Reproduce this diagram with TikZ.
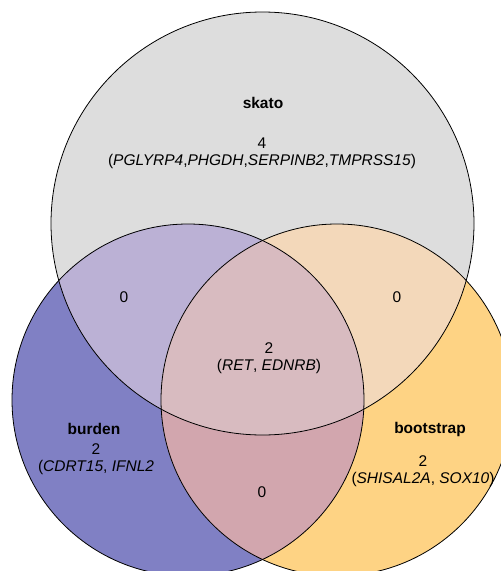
\documentclass[tikz,border=0pt]{standalone}
\usepackage{fontspec}
\setmainfont{Liberation Sans}
\definecolor{cSk}{HTML}{DDDDDD}
\definecolor{cBu}{HTML}{8080C4}
\definecolor{cBo}{HTML}{FED384}
\definecolor{cSkBu}{HTML}{BBB1D5}
\definecolor{cSkBo}{HTML}{F3D8BA}
\definecolor{cBuBo}{HTML}{D2A6AE}
\definecolor{cAll}{HTML}{D8BBC0}
\begin{document}
\begin{tikzpicture}[x=1pt,y=-1pt,
  lbl/.style={font=\fontsize{15.5}{17}\selectfont, align=center, inner sep=0pt},
  ttl/.style={font=\fontsize{15.5}{17}\selectfont\bfseries, inner sep=0pt},
  outline/.style={draw=black, line width=0.8pt}]
\useasboundingbox (0,0) rectangle (501,571);
\clip (0,0) rectangle (501,571);
\coordinate (sk) at (262.5,223.5);
\coordinate (bu) at (188,400);
\coordinate (bo) at (337,400);
\def\rs{211.5}
\def\rb{176}
% base fills
\fill[cSk] (sk) circle[radius=\rs];
\fill[cBu] (bu) circle[radius=\rb];
\fill[cBo] (bo) circle[radius=\rb];
% pairwise
\begin{scope}\clip (sk) circle[radius=\rs]; \fill[cSkBu] (bu) circle[radius=\rb];\end{scope}
\begin{scope}\clip (sk) circle[radius=\rs]; \fill[cSkBo] (bo) circle[radius=\rb];\end{scope}
\begin{scope}\clip (bu) circle[radius=\rb]; \fill[cBuBo] (bo) circle[radius=\rb];\end{scope}
\begin{scope}\clip (sk) circle[radius=\rs]; \clip (bu) circle[radius=\rb]; \fill[cAll] (bo) circle[radius=\rb];\end{scope}
% outlines
\draw[outline] (sk) circle[radius=\rs];
\draw[outline] (bu) circle[radius=\rb];
\draw[outline] (bo) circle[radius=\rb];
% labels
\node[ttl] (tsk) at (263,103) {skato};
\node[lbl] (nsk) at (262,153) {4\\(\textit{PGLYRP4},\textit{PHGDH},\textit{SERPINB2},\textit{TMPRSS15})};
\node[lbl] (nskbu) at (124,297) {0};
\node[lbl] (nskbo) at (397,297) {0};
\node[lbl] (nall) at (269,358) {2\\(\textit{RET}, \textit{EDNRB})};
\node[ttl] (tbu) at (94,429) {burden};
\node[lbl] (nbu) at (96,459) {2\\(\textit{CDRT15}, \textit{IFNL2}};
\node[ttl] (tbo) at (430,429) {bootstrap};
\node[lbl] (nbo) at (423,471) {2\\(\textit{SHISAL2A}, \textit{SOX10})};
\node[lbl] (nbubo) at (262,492) {0};
\end{tikzpicture}
\end{document}
